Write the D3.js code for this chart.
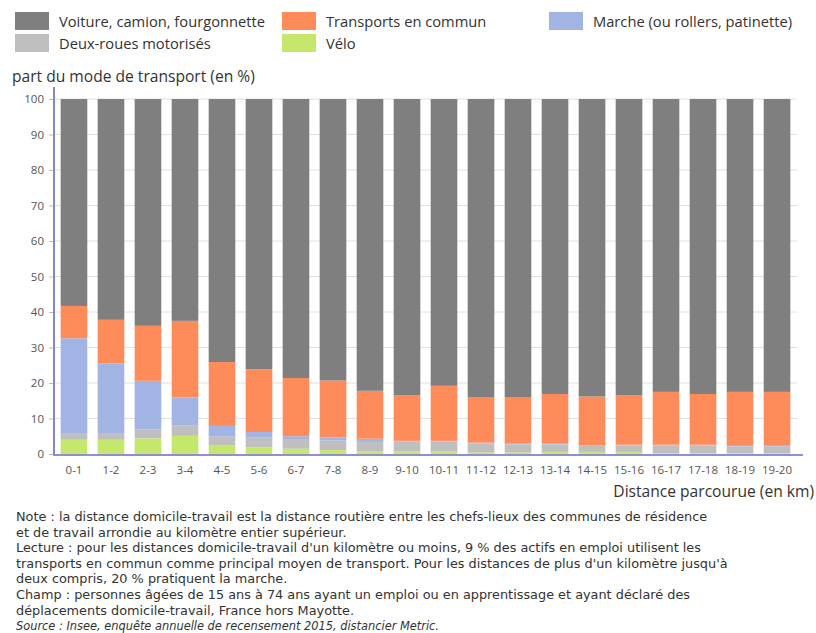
<!DOCTYPE html>
<meta charset="utf-8">
<head>
<style>
    body { margin: 0; background: #fff; }
    text { font-family: "Open Sans", sans-serif; }
</style>
</head>
<body>
<div id="chart"></div>
<script src="https://d3js.org/d3.v7.min.js"></script>
<script>
    // data (% of commuters, by distance band)
    let categories = ['0-1', '1-2', '2-3', '3-4', '4-5', '5-6', '6-7', '7-8', '8-9', '9-10',
        '10-11', '11-12', '12-13', '13-14', '14-15', '15-16', '16-17', '17-18', '18-19', '19-20'];
    let velo = [4.0, 4.0, 4.4, 5.1, 2.5, 1.9, 1.5, 1.1, 0.7, 0.7, 0.7, 0.5, 0.5, 0.6, 0.6, 0.6, 0.2, 0.2, 0.2, 0.2];
    let deuxRoues = [1.9, 1.9, 2.5, 2.9, 2.4, 2.7, 2.5, 2.7, 2.7, 2.8, 2.8, 2.5, 2.2, 2.1, 1.7, 1.8, 2.2, 2.2, 1.9, 1.9];
    let marche = [26.7, 19.6, 13.7, 7.9, 3.0, 1.6, 1.0, 0.9, 0.9, 0.2, 0.2, 0.2, 0.2, 0.2, 0.2, 0.2, 0.2, 0.2, 0.2, 0.2];
    let transports = [9.1, 12.3, 15.5, 21.6, 18.0, 17.7, 16.4, 16.0, 13.5, 12.8, 15.5, 12.7, 13.0, 14.0, 13.7, 13.9, 14.9, 14.3, 15.2, 15.2];
    let voiture = [58.3, 62.2, 63.9, 62.5, 74.1, 76.1, 78.6, 79.3, 82.2, 83.5, 80.8, 84.1, 84.1, 83.1, 83.8, 83.5, 82.5, 83.1, 82.5, 82.5];
    let yTicks = [0, 10, 20, 30, 40, 50, 60, 70, 80, 90, 100];

    let series = [
        {key: 'velo', label: 'Vélo', color: '#c5e86c', values: velo},
        {key: 'deux', label: 'Deux-roues motorisés', color: '#bfbfbf', values: deuxRoues},
        {key: 'marche', label: 'Marche (ou rollers, patinette)', color: '#a2b4e4', values: marche},
        {key: 'tc', label: 'Transports en commun', color: '#fe8c5b', values: transports},
        {key: 'voiture', label: 'Voiture, camion, fourgonnette', color: '#7f7f7f', values: voiture}
    ];

    let svgWidth = 816, svgHeight = 633;
    let svg = d3.select('#chart').append('svg')
        .attr('width', svgWidth)
        .attr('height', svgHeight);

    // legend (two rows, three columns)
    let legendItems = [
        {s: series[4], x: 15, y: 12}, {s: series[3], x: 282, y: 12}, {s: series[2], x: 549, y: 12},
        {s: series[1], x: 15, y: 34}, {s: series[0], x: 282, y: 34}
    ];
    let lg = svg.append('g').selectAll('g').data(legendItems).enter().append('g')
        .attr('transform', d => `translate(${d.x}, ${d.y})`);
    lg.append('rect').attr('width', 34).attr('height', 18).attr('fill', d => d.s.color);
    lg.append('text').attr('x', 44).attr('y', 15)
        .style('font-size', '14.7px').style('fill', '#333')
        .text(d => d.s.label);

    // scales
    let x = d3.scaleBand().domain(categories).range([54, 797]).paddingInner(0.28).paddingOuter(0.18);
    let y = d3.scaleLinear().domain([0, 100]).range([454, 99]);

    // gridlines
    svg.append('g').selectAll('line').data(yTicks.slice(1)).enter().append('line')
        .attr('x1', 54).attr('x2', 797)
        .attr('y1', d => y(d)).attr('y2', d => y(d))
        .attr('stroke', '#e0e0e0').attr('stroke-width', 1);

    // stacked bars
    let rows = categories.map((c, i) => {
        let r = {cat: c};
        series.forEach(s => r[s.key] = s.values[i]);
        return r;
    });
    let stacked = d3.stack().keys(series.map(s => s.key))(rows);
    svg.append('g').selectAll('g').data(stacked).enter().append('g')
        .attr('fill', (d, i) => series[i].color)
        .selectAll('rect').data(d => d).enter().append('rect')
        .attr('x', d => x(d.data.cat))
        .attr('width', x.bandwidth())
        .attr('y', d => y(d[1]))
        .attr('height', d => y(d[0]) - y(d[1]));

    // y axis
    let yAxis = svg.append('g')
        .attr('transform', 'translate(54, 0)')
        .call(d3.axisLeft(y).tickValues(yTicks).tickSize(5).tickPadding(5));
    yAxis.select('.domain').remove();
    yAxis.selectAll('.tick line').attr('stroke', '#bbb');
    yAxis.selectAll('.tick text').style('font-size', '11.5px').style('fill', '#555')
        .style('font-family', '"Open Sans", sans-serif');
    svg.append('line').attr('x1', 54).attr('x2', 54).attr('y1', 87).attr('y2', 455)
        .attr('stroke', '#8585cc').attr('stroke-width', 2);

    // x axis
    let xAxis = svg.append('g')
        .attr('transform', 'translate(0, 455)')
        .call(d3.axisBottom(x).tickSize(0).tickPadding(11));
    xAxis.select('.domain').remove();
    xAxis.selectAll('.tick text').style('font-size', '11.5px').style('fill', '#555')
        .style('font-family', '"Open Sans", sans-serif');
    svg.append('line').attr('x1', 53).attr('x2', 803).attr('y1', 455).attr('y2', 455)
        .attr('stroke', '#8f8fd4').attr('stroke-width', 2);

    // axis titles
    svg.append('text').attr('x', 12).attr('y', 82)
        .style('font-size', '15.6px').style('fill', '#333')
        .text('part du mode de transport (en %)');
    svg.append('text').attr('x', 814).attr('y', 497).attr('text-anchor', 'end')
        .style('font-size', '15.6px').style('fill', '#333')
        .text('Distance parcourue (en km)');

    // notes
    let notes = [
        'Note : la distance domicile-travail est la distance routière entre les chefs-lieux des communes de résidence',
        'et de travail arrondie au kilomètre entier supérieur.',
        'Lecture : pour les distances domicile-travail d\'un kilomètre ou moins, 9 % des actifs en emploi utilisent les',
        'transports en commun comme principal moyen de transport. Pour les distances de plus d\'un kilomètre jusqu\'à',
        'deux compris, 20 % pratiquent la marche.',
        'Champ : personnes âgées de 15 ans à 74 ans ayant un emploi ou en apprentissage et ayant déclaré des',
        'déplacements domicile-travail, France hors Mayotte.',
        'Source : Insee, enquête annuelle de recensement 2015, distancier Metric.'
    ];
    let last = notes.length - 1;
    svg.append('g').selectAll('text').data(notes).enter().append('text')
        .attr('x', 16)
        .attr('y', (d, i) => 521 + i * 15.6)
        .style('font-family', '"DejaVu Sans", sans-serif')
        .style('font-size', (d, i) => i === last ? '11.4px' : '12.85px')
        .style('fill', '#333')
        .style('font-style', (d, i) => i === last ? 'italic' : 'normal')
        .text(d => d);
</script>
</body>
